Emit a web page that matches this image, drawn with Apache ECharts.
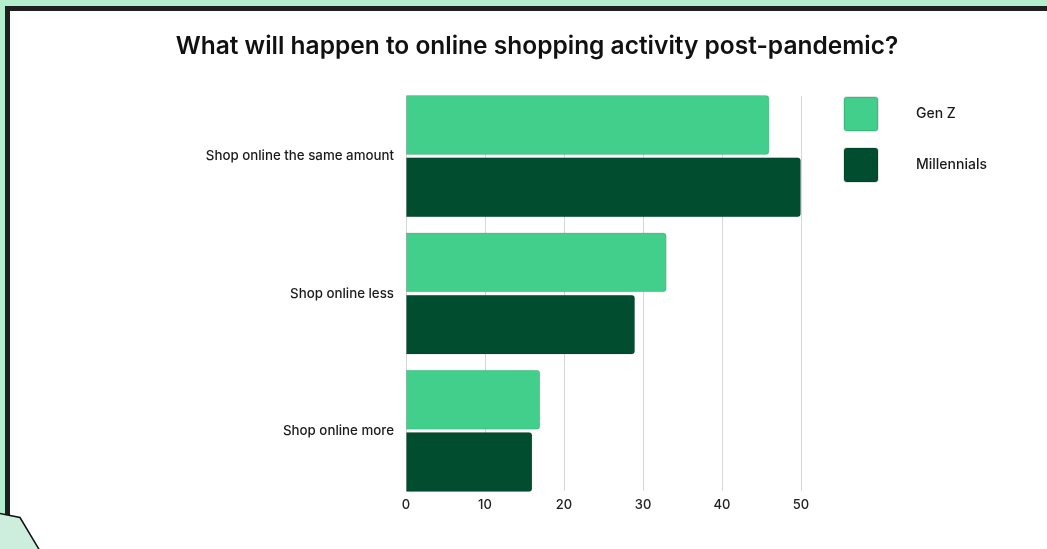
<!DOCTYPE html>
<html>
<head>
<meta charset="utf-8">
<script src="https://cdn.jsdelivr.net/npm/echarts@6/dist/echarts.min.js"></script>
<style>
  html, body { margin: 0; padding: 0; background: #ffffff; }
  #chart { width: 1047px; height: 549px; }
</style>
</head>
<body>
<div id="chart"></div>
<script>
// Survey answers, top to bottom
const categories = ['Shop online the same amount', 'Shop online less', 'Shop online more'];
const genZ = [46, 33, 17];
const millennials = [50, 29, 16];
const xTicks = { min: 0, max: 50, interval: 10 };

const GEN_Z_COLOR = '#42cf8b';
const MILLENNIAL_COLOR = '#014d2f';
const FONT = 'Inter, "Noto Sans", sans-serif';
// 34x34 square with small rounded corners for the legend keys
const KEY_ICON = 'path://M3,0H31A3,3,0,0,1,34,3V31A3,3,0,0,1,31,34H3A3,3,0,0,1,0,31V3A3,3,0,0,1,3,0Z';

const chart = echarts.init(document.getElementById('chart'), null, { renderer: 'canvas' });

chart.setOption({
  animation: false,
  backgroundColor: '#ffffff',
  textStyle: { fontFamily: FONT },
  title: {
    text: 'What will happen to online shopping activity post-pandemic?',
    left: 532,
    textAlign: 'center',
    top: 29,
    textStyle: { fontFamily: FONT, fontSize: 24.5, fontWeight: 600, color: '#111111' }
  },
  legend: {
    orient: 'vertical',
    left: 843,
    top: 96,
    padding: 0,
    itemWidth: 34,
    itemHeight: 34,
    itemGap: 15,
    icon: KEY_ICON,
    textStyle: { fontFamily: FONT, fontSize: 14, fontWeight: 500, color: '#1a1a1a', padding: [0, 0, 0, 33] },
    data: ['Gen Z', 'Millennials']
  },
  // frame around the panel
  graphic: [
    { type: 'rect', shape: { x: 0, y: 0, width: 1047, height: 549 }, style: { fill: '#b3efcc' }, z: -10, silent: true },
    { type: 'rect', shape: { x: 5, y: 6, width: 1042, height: 543 }, style: { fill: '#1f1f1f' }, z: -9, silent: true },
    { type: 'rect', shape: { x: 10, y: 11, width: 1037, height: 538 }, style: { fill: '#ffffff' }, z: -8, silent: true },
    {
      type: 'polygon',
      shape: { points: [[-2, 513], [20, 517.5], [40, 551], [-2, 551]] },
      style: { fill: '#cdeedc', stroke: '#111111', lineWidth: 1.5 },
      z: 10, silent: true
    }
  ],
  grid: [
    // grid carrying the value gridlines and tick labels
    { left: 406, width: 395, top: 96, height: 395 },
    // grid carrying the bars and category labels
    { left: 406, width: 395, top: 87.5, height: 412 }
  ],
  xAxis: [
    {
      gridIndex: 0, type: 'value', min: xTicks.min, max: xTicks.max, interval: xTicks.interval,
      axisLine: { show: false }, axisTick: { show: false },
      splitLine: { show: true, lineStyle: { color: '#d6d6d6', width: 1 } },
      axisLabel: { margin: 8, fontFamily: FONT, fontSize: 13, fontWeight: 500, color: '#222222' }
    },
    {
      gridIndex: 1, type: 'value', min: xTicks.min, max: xTicks.max,
      axisLine: { show: false }, axisTick: { show: false }, splitLine: { show: false }, axisLabel: { show: false }
    }
  ],
  yAxis: [
    {
      gridIndex: 0, type: 'category', data: categories, inverse: true,
      axisLine: { show: false }, axisTick: { show: false }, axisLabel: { show: false }, splitLine: { show: false }
    },
    {
      gridIndex: 1, type: 'category', data: categories, inverse: true,
      axisLine: { show: false }, axisTick: { show: false },
      axisLabel: { margin: 12, fontFamily: FONT, fontSize: 13.3, fontWeight: 500, color: '#1a1a1a' }
    }
  ],
  series: [
    {
      name: 'Gen Z', type: 'bar', xAxisIndex: 1, yAxisIndex: 1, data: genZ,
      barGap: '4%', barCategoryGap: '11%',
      itemStyle: { color: GEN_Z_COLOR, borderRadius: [0, 3, 3, 0], borderColor: 'rgba(0,0,0,0.1)', borderWidth: 1 }
    },
    {
      name: 'Millennials', type: 'bar', xAxisIndex: 1, yAxisIndex: 1, data: millennials,
      barGap: '4%', barCategoryGap: '11%',
      itemStyle: { color: MILLENNIAL_COLOR, borderRadius: [0, 3, 3, 0], borderColor: 'rgba(0,0,0,0.1)', borderWidth: 1 }
    }
  ]
});
</script>
</body>
</html>
